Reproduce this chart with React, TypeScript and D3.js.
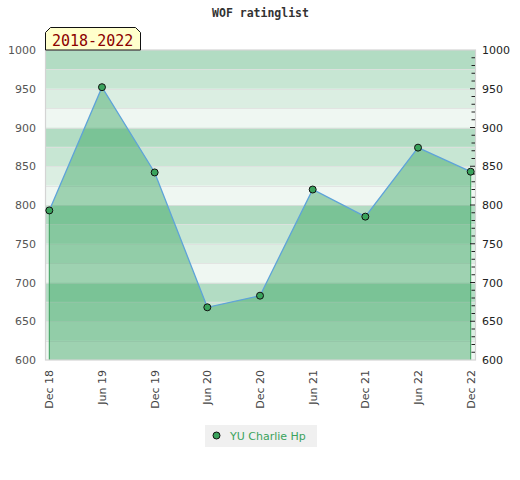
import React from "react";
import * as d3 from "d3";

const categories = ["Dec 18", "Jun 19", "Dec 19", "Jun 20", "Dec 20", "Jun 21", "Dec 21", "Jun 22", "Dec 22"];
const ratings = [793, 952, 842, 668, 683, 820, 785, 874, 843];
const yTicks = [600, 650, 700, 750, 800, 850, 900, 950, 1000];
const seriesName = "YU Charlie Hp";
const periodLabel = "2018-2022";
const title = "WOF ratinglist";

const W = 520;
const H = 480;
const plot = { left: 45.5, right: 475.5, top: 50, bottom: 360 };
const bandColors = ["#eff7f2", "#dbeee2", "#c7e6d3", "#b2dcc3"];

export default function App() {
  const x = d3
    .scaleLinear()
    .domain([0, categories.length - 1])
    .range([49.3, 470.7]);
  const y = d3.scaleLinear().domain([600, 1000]).range([plot.bottom, plot.top]);

  const bands = d3.range(600, 1000, 25);
  const grid = d3.range(625, 1000, 25);
  const minor = d3.range(610, 1000, 10);

  const pts = ratings.map((v, i) => [x(i), y(v)] as [number, number]);
  const area = d3
    .area<[number, number]>()
    .x((d) => d[0])
    .y0(y(600))
    .y1((d) => d[1]);
  const line = d3.line<[number, number]>().x((d) => d[0]).y((d) => d[1]);

  const bx0 = 45.5, bx1 = 140.5, by0 = 27.5, by1 = 50, ch = 5;
  const boxPath = `M${bx0},${by1} L${bx0},${by0 + ch} L${bx0 + ch},${by0} L${bx1 - ch},${by0} L${bx1},${by0 + ch} L${bx1},${by1} Z`;

  return (
    <svg
      width={W}
      height={H}
      style={{ position: "absolute", left: 0, top: 0, fontFamily: "DejaVu Sans" }}
    >
      <rect x={0} y={0} width={W} height={H} fill="#ffffff" />
      <text
        x={260.5}
        y={17}
        textAnchor="middle"
        fontFamily="DejaVu Sans Mono"
        fontWeight="bold"
        fontSize={11.5}
        fill="#333"
      >
        {title}
      </text>

      {bands.map((b) => (
        <rect
          key={b}
          x={plot.left}
          y={y(b + 25)}
          width={plot.right - plot.left}
          height={y(b) - y(b + 25)}
          fill={bandColors[((b - 600) / 25) % 4]}
        />
      ))}
      {grid.map((g) => (
        <line
          key={g}
          x1={plot.left}
          x2={plot.right}
          y1={Math.round(y(g)) + 0.5}
          y2={Math.round(y(g)) + 0.5}
          stroke="#dedede"
          strokeOpacity={0.8}
        />
      ))}

      <path d={area(pts) || ""} fill="rgb(46,160,87)" fillOpacity={0.42} />
      <line x1={pts[0][0]} x2={pts[0][0]} y1={pts[0][1]} y2={plot.bottom} stroke="#3a9e5a" strokeWidth={1} />
      <line
        x1={pts[pts.length - 1][0]}
        x2={pts[pts.length - 1][0]}
        y1={pts[pts.length - 1][1]}
        y2={plot.bottom}
        stroke="#3a9e5a"
        strokeWidth={1}
      />
      <path d={line(pts) || ""} fill="none" stroke="#5ea3d9" strokeWidth={1.3} />

      <rect
        x={plot.left}
        y={plot.top}
        width={plot.right - plot.left}
        height={plot.bottom - plot.top}
        fill="none"
        stroke="#d4d4d4"
        strokeWidth={1.2}
      />

      {minor.map((m) => (
        <line
          key={m}
          x1={m % 50 === 0 ? 470 : 471.5}
          x2={475}
          y1={y(m)}
          y2={y(m)}
          stroke="#222"
          strokeWidth={1}
        />
      ))}

      {yTicks.map((t) => (
        <text key={"l" + t} x={36} y={y(t) + 4} textAnchor="end" fontSize={11} fill="#555">
          {t}
        </text>
      ))}
      {yTicks.map((t) => (
        <text key={"r" + t} x={482} y={y(t) + 4} textAnchor="start" fontSize={11} fill="#222">
          {t}
        </text>
      ))}

      {categories.map((c, i) => (
        <text
          key={c}
          transform={`translate(${x(i) + 4},370) rotate(-90)`}
          textAnchor="end"
          fontSize={11}
          fill="#444"
        >
          {c}
        </text>
      ))}

      {pts.map((p, i) => (
        <circle key={i} cx={p[0]} cy={p[1]} r={3.5} fill="#3aa35c" stroke="#111" strokeWidth={1} />
      ))}

      <path d={boxPath} fill="#ffffcc" stroke="#111" strokeWidth={1} />
      <text x={52} y={45.5} fontFamily="DejaVu Sans Mono" fontSize={15} fill="#8b0000">
        {periodLabel}
      </text>

      <rect x={205} y={425} width={112} height={22} fill="#f0f0f0" />
      <circle cx={216.5} cy={435.5} r={3.5} fill="#3aa35c" stroke="#111" strokeWidth={1} />
      <text x={230} y={439.5} fontSize={11} fill="#3aa35c">
        {seriesName}
      </text>
    </svg>
  );
}
